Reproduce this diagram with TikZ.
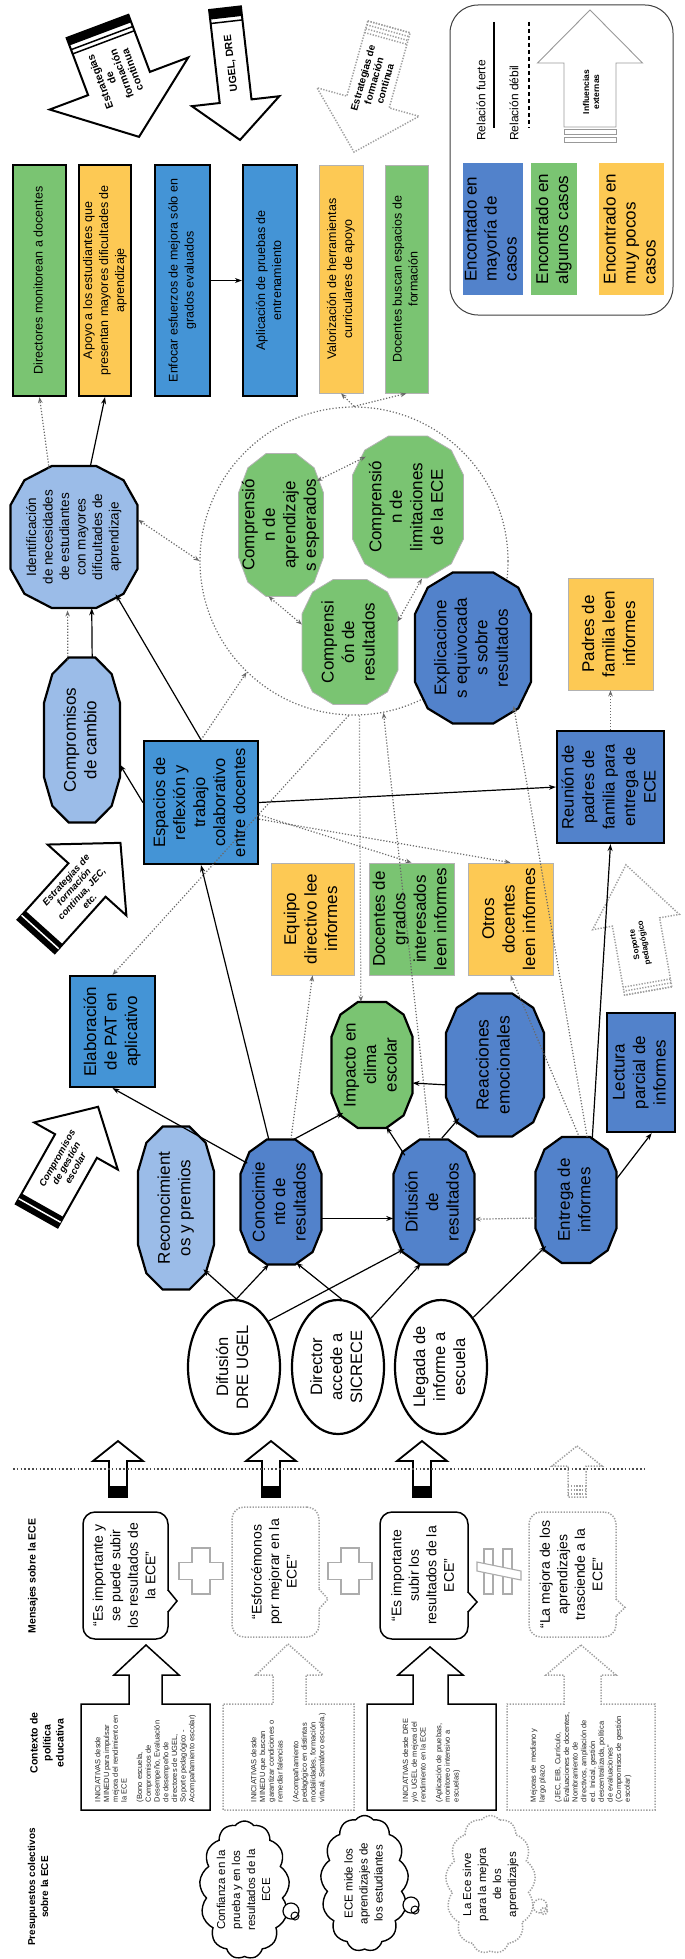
\documentclass[tikz,border=0pt]{standalone}
\usepackage{fontspec}
\setmainfont{Liberation Sans}
\usepackage{graphicx}
\usetikzlibrary{arrows.meta,shapes.geometric,shapes.symbols}
\pgfdeclarelayer{bg}
\pgfsetlayers{bg,main}
\definecolor{medblue}{RGB}{68,148,214}
\definecolor{octblue}{RGB}{82,130,203}
\definecolor{ltblue}{RGB}{155,188,232}
\definecolor{grn}{RGB}{122,196,114}
\definecolor{ylw}{RGB}{253,201,84}
\definecolor{dotc}{RGB}{105,105,105}
\tikzset{
 sarr/.style={-{Stealth[length=7pt,width=5pt]}, line width=1.2pt},
 darr/.style={-{Stealth[length=6pt,width=4.5pt]}, line width=1.2pt, dotc, dash pattern=on 1.2pt off 1.8pt},
 dd/.style={darr, {Stealth[length=6pt,width=4.5pt]}-{Stealth[length=6pt,width=4.5pt]}},
 box/.style={draw=black, line width=2.2pt, inner sep=0pt, font=\fontsize{17}{20.5}\selectfont},
 rbox/.style={draw=black, line width=2.2pt, inner sep=0pt, font=\fontsize{12.5}{16}\selectfont},
 tbox/.style={draw=gray!60, line width=0.8pt, inner sep=0pt, font=\fontsize{17}{20.5}\selectfont},
 anch/.style={ellipse, inner sep=0pt, outer sep=0pt, draw=none},
 octtxt/.style={inner sep=0pt, font=\fontsize{17}{20.5}\selectfont},
 oct/.style={draw=black, line width=2.2pt, fill=#1, line join=miter},
 goct/.style={draw=gray!60, line width=0.8pt, fill=grn},
 ell/.style={ellipse, draw=black, line width=2.2pt, fill=white, inner sep=0pt, minimum width=92, minimum height=134, font=\fontsize{16.5}{20}\selectfont},
 blk/.style={draw=black, line width=2pt, fill=white, line join=miter},
 dblk/.style={draw=gray!75, line width=1.5pt, dash pattern=on 1.3pt off 1.5pt, fill=white},
 dots/.style={draw=gray!75, line width=1.5pt, dash pattern=on 1.3pt off 1.5pt},
 atxt/.style={font=\bfseries\fontsize{10.5}{11.5}\selectfont, align=center, inner sep=0pt},
 atxtb/.style={font=\bfseries\itshape\fontsize{9.5}{10.5}\selectfont, align=center, inner sep=0pt},
 lgarr/.style={draw=gray!80, line width=0.9pt, fill=white},
 msg/.style={draw=black, line width=1.5pt, rounded corners=12pt, inner sep=0pt, font=\fontsize{14}{17.5}\selectfont},
 dmsg/.style={dots, rounded corners=12pt, inner sep=0pt, font=\fontsize{14}{17.5}\selectfont},
 ctxs/.style={draw=black, line width=1.5pt, fill=white, line join=miter},
 ctxd/.style={dots, fill=white},
 ctxt/.style={inner sep=0pt, text=black!85, font=\fontsize{7.5}{8.7}\selectfont},
 cld/.style={cloud, cloud puffs=13, cloud puff arc=105, cloud ignores aspect, draw=black, line width=1.4pt, inner sep=0pt},
 dcld/.style={cloud, cloud puffs=13, cloud puff arc=105, cloud ignores aspect, dots, inner sep=0pt},
 cldtxt/.style={inner sep=0pt, font=\fontsize{11.5}{15}\selectfont},
 hdr/.style={inner sep=0pt, font=\bfseries\fontsize{10.5}{13}\selectfont},
 crs/.style={draw=gray!65, line width=1.1pt, fill=white},
}
\newcommand{\rt}[1]{\rotatebox{90}{\begin{tabular}{@{}c@{}}#1\end{tabular}}}
\newcommand{\rtl}[1]{\rotatebox{90}{\begin{tabular}{@{}l@{}}#1\end{tabular}}}
\newcommand{\rtp}[2]{\rotatebox{90}{\parbox{#1}{\raggedright #2}}}
\newcommand{\octo}[7]{%
  \draw[#6] ({#2-0.35*#4/2},{#3-#5/2}) -- ({#2+0.35*#4/2},{#3-#5/2})
   -- ({#2+0.78*#4/2},{#3-0.8*#5/2}) -- ({#2+#4/2},{#3-0.45*#5/2})
   -- ({#2+#4/2},{#3+0.45*#5/2}) -- ({#2+0.78*#4/2},{#3+0.8*#5/2})
   -- ({#2+0.35*#4/2},{#3+#5/2}) -- ({#2-0.35*#4/2},{#3+#5/2})
   -- ({#2-0.78*#4/2},{#3+0.8*#5/2}) -- ({#2-#4/2},{#3+0.45*#5/2})
   -- ({#2-#4/2},{#3-0.45*#5/2}) -- ({#2-0.78*#4/2},{#3-0.8*#5/2}) -- cycle;
  \node[anch, minimum width={1.04*#4}, minimum height={1.04*#5}] (#1) at (#2,#3) {};
  \node[octtxt] at (#2,#3) {#7};
}
\newcommand{\barrow}[5]{\draw[#1] (-#3,-#2) -- (#3,-#2) -- (#3,0) -- (#4,0) -- (0,#5) -- (-#4,0) -- (-#3,0) -- cycle;}
\newcommand{\notch}[4]{%
  \draw[white, line width=2.6pt] (#1,{#2+1}) -- (#1,{#3-1});
  \draw[#4] (#1,#2) -- ({#1+9},{(#2+#3)/2}) -- (#1,#3);
}
\newcommand{\plusg}[2]{%
  \draw[crs] ({#1-9},{#2-23}) -- ({#1+9},{#2-23}) -- ({#1+9},{#2-8.5}) -- ({#1+22},{#2-8.5})
   -- ({#1+22},{#2+8.5}) -- ({#1+9},{#2+8.5}) -- ({#1+9},{#2+23}) -- ({#1-9},{#2+23})
   -- ({#1-9},{#2+8.5}) -- ({#1-22},{#2+8.5}) -- ({#1-22},{#2-8.5}) -- ({#1-9},{#2-8.5}) -- cycle;
}
\begin{document}
\begin{tikzpicture}[x=1pt,y=-1pt]
\fill[white] (0,0) rectangle (685,1959);
\useasboundingbox (0,0) rectangle (685,1959);

%================ LEGEND
\draw[gray!50!black, line width=1pt, rounded corners=28pt] (450,5) rectangle (673,315);
\draw[line width=1.6pt] (494,22) -- (494,128);
\draw[line width=1.2pt, dash pattern=on 4pt off 3pt] (529,22) -- (529,128);
\node[anchor=south, inner sep=0pt, font=\fontsize{12}{14}\selectfont] (lf) at (481,141) {\rotatebox{90}{Relación fuerte}};
\node[anchor=south, inner sep=0pt, font=\fontsize{12}{14}\selectfont] (ldb) at (514,141) {\rotatebox{90}{Relación débil}};
\begin{scope}[shift={(590,63)}, rotate=180]
 \barrow{lgarr}{64}{26}{52.5}{53}
 \draw[lgarr] (-26,-66) rectangle (26,-71);
 \draw[lgarr] (-26,-74) rectangle (26,-79);
\end{scope}
\node[inner sep=0pt, font=\bfseries\fontsize{8.5}{10}\selectfont] (infl) at (592,92) {\rt{Influencias\\externas}};
\node[fill=octblue, minimum width=55, minimum height=132, inner sep=0pt, font=\fontsize{17}{20}\selectfont] (lg1) at (492.5,229) {\rtl{Encontado en\\mayoría de\\casos}};
\node[fill=grn, minimum width=46, minimum height=132, inner sep=0pt, font=\fontsize{17}{20}\selectfont] (lg2) at (554,229) {\rtl{Encontrado en\\algunos casos}};
\node[fill=ylw, minimum width=65, minimum height=132, inner sep=0pt, font=\fontsize{17}{20}\selectfont] (lg3) at (631.5,229) {\rtl{Encontrado en\\muy pocos\\casos}};

%================ TOP BLOCK ARROWS
\begin{scope}[shift={(119,83.5)}, rotate=20.6]
 \barrow{blk}{61}{33}{74}{57}
 \fill (-33,-61) rectangle (33,-53);
 \draw[line width=1.5pt] (-33,-48.5) -- (33,-48.5);
 \draw[line width=1.5pt] (-33,-44) -- (33,-44);
 \node[rotate=110.6, atxt] (a1) at (0,-8) {Estrategias\\de\\formación\\continua};
\end{scope}
\begin{scope}[shift={(235.6,101.2)}, rotate=6.5]
 \barrow{blk}{93.6}{16}{44}{39}
 \fill (-16,-93.6) rectangle (16,-84);
 \draw[line width=1.5pt] (-16,-80) -- (16,-80);
 \node[rotate=96.5, atxt] (a2) at (0,-38) {UGEL, DRE};
\end{scope}
\begin{scope}[shift={(368,102)}, rotate=-15.6]
 \barrow{dblk}{78}{22}{53}{52}
 \foreach \yy in {-78,-74,-70,-66} \draw[dots] (-22,\yy) -- (22,\yy);
 \node[rotate=74.4, atxt, font=\bfseries\fontsize{10}{11.5}\selectfont] (a3) at (0,-22) {Estrategias de\\formación\\continua};
\end{scope}

%================ RIGHT COLUMN BOXES
\node[rbox, fill=grn, minimum width=53, minimum height=231] (dir) at (39.5,280.5) {\rt{Directores monitorean a docentes}};
\node[rbox, fill=ylw, minimum width=52, minimum height=231] (apo) at (105,280.5) {\rt{Apoyo a los estudiantes que\\presentan mayores dificultades de\\aprendizaje}};
\node[rbox, fill=medblue, minimum width=55, minimum height=231] (enf) at (182.5,280.5) {\rt{Enfocar esfuerzos de mejora sólo en\\grados evaluados}};
\node[rbox, fill=medblue, minimum width=54, minimum height=231] (apl) at (270,280.5) {\rt{Aplicación de pruebas de\\entrenamiento}};
\node[tbox, fill=ylw, minimum width=44, minimum height=228, font=\fontsize{12.5}{16}\selectfont] (val) at (341,279) {\rt{Valorización de herramientas\\curriculares de apoyo}};
\node[tbox, fill=grn, minimum width=43, minimum height=228, font=\fontsize{12.5}{16}\selectfont] (dbf) at (406.5,279) {\rt{Docentes buscan espacios de\\formación}};

%================ CIRCLE AND OCTAGONS
\node[circle, draw=dotc, dash pattern=on 1.2pt off 2pt, line width=1.2pt, minimum size=308, inner sep=0pt] (circ) at (354,561) {};
\octo{ide}{74}{537}{127}{142}{oct=ltblue}{\fontsize{13.5}{16.5}\selectfont\rt{Identificación\\de necesidades\\de estudiantes\\con mayores\\dificultades de\\aprendizaje}}
\octo{cam}{82}{740}{76}{165}{oct=ltblue}{\rt{Compromisos\\de cambio}}
\octo{cap}{281}{525}{85}{143}{goct}{\rt{Comprensió\\n de\\aprendizaje\\s esperados}}
\octo{clim}{408}{507}{111}{142}{goct}{\rt{Comprensió\\n de\\limitaciones\\de la ECE}}
\octo{cres}{350}{642}{96}{125}{goct}{\rt{Comprensi\\ón de\\resultados}}
\octo{exp}{473}{648}{116}{151}{oct=octblue}{\rt{Explicacione\\s equivocada\\s sobre\\resultados}}
\octo{rec}{176}{1208}{76}{163}{oct=ltblue}{\rt{Reconocimient\\os y premios}}
\octo{con}{281}{1202}{81}{125}{oct=octblue}{\rt{Conocimie\\nto de\\resultados}}
\octo{dif}{434}{1202}{81}{125}{oct=octblue}{\rt{Difusión\\de\\resultados}}
\octo{ent}{576}{1200}{81}{126}{oct=octblue}{\rt{Entrega de\\informes}}
\octo{imp}{372}{1065}{81}{126}{oct=grn}{\rt{Impacto en\\clima\\escolar}}
\octo{rea}{495}{1065}{98}{143}{oct=octblue}{\fontsize{17.5}{21}\selectfont\rt{Reacciones\\emocionales}}

%================ BOXES
\node[box, fill=medblue, minimum width=114, minimum height=123, font=\fontsize{16.5}{20}\selectfont] (esp) at (201,802.5) {\rt{Espacios de\\reflexión y\\trabajo\\colaborativo\\entre docentes}};
\node[box, fill=octblue, minimum width=107, minimum height=112, font=\fontsize{16.5}{20.5}\selectfont] (reu) at (610.5,787) {\rt{Reunión de\\padres de\\familia para\\entrega de\\ECE}};
\node[tbox, fill=ylw, minimum width=85, minimum height=112] (pad) at (610.5,634) {\rt{Padres de\\familia leen\\informes}};
\node[tbox, fill=ylw, minimum width=83, minimum height=112] (equ) at (312.5,919) {\rt{Equipo\\directivo lee\\informes}};
\node[tbox, fill=grn, minimum width=85, minimum height=112] (dgi) at (411.5,919) {\rt{Docentes de\\grados\\interesados\\leen informes}};
\node[tbox, fill=ylw, minimum width=85, minimum height=112] (otr) at (510.5,919) {\rt{Otros\\docentes\\leen informes}};
\node[box, fill=medblue, minimum width=85, minimum height=111] (pat) at (112.5,1031.5) {\rt{Elaboración\\de PAT en\\aplicativo}};
\node[box, fill=octblue, minimum width=68, minimum height=119] (lec) at (641,1072.5) {\rt{Lectura\\parcial de\\informes}};

%================ MID BLOCK ARROWS
\begin{scope}[shift={(87,880)}, rotate=138]
 \barrow{blk}{76}{25}{53}{50}
 \fill (-25,-76) rectangle (25,-64);
 \draw[white, line width=1.5pt] (-25,-70) -- (25,-70);
 \node[rotate=48, atxtb] (a4) at (0,-14) {Estrategias de\\formación\\continua, JEC,\\etc.};
\end{scope}
\begin{scope}[shift={(76,1146)}, rotate=150.6]
 \barrow{blk}{80}{24}{48}{45}
 \fill (-24,-80) rectangle (24,-68);
 \draw[white, line width=1.5pt] (-24,-74) -- (24,-74);
 \node[rotate=60.6, atxtb] (a5) at (0,-20) {Compromisos\\de gestión\\escolar};
\end{scope}
\begin{scope}[shift={(636,922)}, rotate=190]
 \barrow{dblk}{70}{24}{44}{58}
 \foreach \yy in {-70,-66,-62} \draw[dots] (-24,\yy) -- (24,\yy);
 \node[rotate=100, font=\bfseries\fontsize{8}{9.5}\selectfont, align=center, inner sep=0pt] (a6) at (0,-22) {Soporte\\pedagógico};
\end{scope}

%================ ELLIPSES
\node[ell] (e1) at (234,1367) {\rt{Difusión\\DRE UGEL}};
\node[ell] (e2) at (338,1367) {\rt{Director\\accede a\\SICRECE}};
\node[ell] (e3) at (441,1367) {\rt{Llegada de\\informe a\\escuela}};

%================ CONNECTORS (background)
\begin{pgfonlayer}{bg}
\draw[darr] (ent.157) -- (con.56);
\draw[sarr] (dif.235) -- (rec.301);
\draw[darr] (ent.110) -- (dgi.south);
\end{pgfonlayer}

%================ CONNECTORS
\draw[sarr] (enf) -- (apl);
\draw[sarr] (ide.77) -- (apo.south);
\draw[darr] (ide.110) -- (dir.south);
\draw[sarr] (cam.83) -- (ide.284);
\draw[darr] (cam.100) -- (ide.265);
\draw[sarr] (esp.north) -- (ide.306);
\draw[sarr] (esp.west) -- (cam.327);
\draw[sarr] (esp.east) -- (reu.west);
\draw[darr] (reu.north) -- (pad.south);
\draw[darr] (esp.north) -- (circ.226);
\draw[darr] (circ.268) -- (pat.north);
\draw[darr] (circ.272) -- (imp.100);
\draw[darr] (dif.94) -- (circ.281);
\draw[darr] (ent.80) -- (exp.305);
\draw[darr] (esp.348) -- (dgi.north);
\draw[darr] (esp.344) -- (otr.north);
\draw[darr] (con.81) -- (equ.south);
\draw[darr] (ent.88) -- (otr.south);
\draw[darr] (ent.204) -- (dif.337);
\draw[dd] (ide.15) -- (circ.180);
\draw[darr] (circ.north) -- (val.south);
\draw[darr] (circ.north) -- (dbf.south);
\draw[dd] (cap.51) -- (clim.130);
\draw[dd] (cap.260) -- (cres.160);
\draw[dd] (cres.23) -- (clim.281);
\draw[sarr] (con.101) -- (esp.south);
\draw[sarr] (ent.75) -- (reu.south);
\draw[sarr] (con.131) -- (pat.south);
\draw[sarr] (ent.27) -- (lec.280);
\draw[sarr] (con.79) -- (imp.239);
\draw[sarr] (dif.122) -- (imp.283);
\draw[sarr] (dif.83) -- (rea.236);
\draw[sarr] (rea.202) -- (imp.336);
\draw[sarr] (con.338) -- (dif.202);
\draw[sarr] (e1.88) -- (rec.294);
\draw[sarr] (e1.88) -- (con.259);
\draw[sarr] (e1.53) -- (dif.238);
\draw[sarr] (e2.87) -- (con.284);
\draw[sarr] (e2.56) -- (dif.258);
\draw[sarr] (e3.57) -- (ent.237);

%================ MESSAGE ARROWS + DOTTED LINE
\foreach \xx in {118,271,422} {
 \draw[blk, line width=1.8pt] (\xx,1441) -- (\xx+25,1461) -- (\xx+9,1461) -- (\xx+9,1497) -- (\xx-9,1497) -- (\xx-9,1461) -- (\xx-25,1461) -- cycle;
 \fill (\xx-9,1486) rectangle (\xx+9,1497);
}
\draw[dblk] (577,1446) -- (602,1466) -- (586,1466) -- (586,1497) -- (568,1497) -- (568,1466) -- (552,1466) -- cycle;
\foreach \yy in {1486,1490,1494} \draw[dots] (568,\yy) -- (586,\yy);
\draw[line width=1.6pt, dash pattern=on 1.6pt off 2.2pt, gray!60!black] (13,1469) -- (647,1469);

%================ MESSAGES
\node[hdr] (h3) at (33,1576) {\rt{Mensajes sobre la ECE}};
\node[msg, minimum width=85, minimum height=127] (m1) at (125.5,1575.5) {\rt{“Es importante y\\se puede subir\\los resultados de\\la ECE”}};
\notch{168}{1590}{1612}{line width=1.5pt}
\node[dmsg, minimum width=87, minimum height=130] (m2) at (275.5,1572) {\rt{“Esforcémonos\\por mejorar en la\\ECE”}};
\notch{319}{1589}{1609}{dots}
\node[msg, minimum width=88, minimum height=127] (m3) at (424,1575.5) {\rt{“Es importante\\subir los\\resultados de la\\ECE”}};
\notch{468}{1592}{1612}{line width=1.5pt}
\node[dmsg, minimum width=87, minimum height=125] (m4) at (572.5,1574.5) {\rt{“La mejora de los\\aprendizajes\\trasciende a la\\ECE”}};
\notch{616}{1599}{1616}{dots}
\plusg{201}{1571}
\plusg{350}{1571}
\draw[crs] (484,1549) rectangle (493,1594);
\draw[crs] (503,1549) rectangle (512,1594);
\draw[crs] (477,1562) -- (521,1571) -- (521,1580) -- (477,1571) -- cycle;

%================ CONTEXT
\node[hdr] (h2) at (48,1743) {\rt{Contexto de\\política\\educativa}};
\draw[ctxs] (146,1645) -- (179,1675) -- (162,1675) -- (162,1704) -- (210,1704) -- (210,1810) -- (81,1810) -- (81,1704) -- (129,1704) -- (129,1675) -- (114,1675) -- cycle;
\draw[ctxd] (288,1644) -- (323,1675) -- (306,1675) -- (306,1704) -- (354,1704) -- (354,1810) -- (223,1810) -- (223,1704) -- (273,1704) -- (273,1675) -- (256,1675) -- cycle;
\draw[ctxs] (430,1647) -- (463,1675) -- (448,1675) -- (448,1704) -- (496,1704) -- (496,1810) -- (367,1810) -- (367,1704) -- (413,1704) -- (413,1675) -- (398,1675) -- cycle;
\draw[ctxd] (581,1645) -- (616,1675) -- (601,1675) -- (601,1704) -- (655,1704) -- (655,1810) -- (507,1810) -- (507,1704) -- (564,1704) -- (564,1675) -- (546,1675) -- cycle;
\node[ctxt] (k1) at (145.5,1757) {\rtp{90pt}{INICIATIVAS desde MINEDU para impulsar mejora del rendimiento en la ECE\par\vspace{7pt}(Bono escuela, Compromisos de Desempeño, Evaluación de desempeño de directores de UGEL, Soporte pedagógico - Acompañamiento escolar)}};
\node[ctxt] (k2) at (288.5,1757) {\rtp{90pt}{INICIATIVAS desde MINEDU que buscan garantizar condiciones o remediar falencias\par\vspace{7pt}(Acompañamiento pedagógico en distintas modalidades, formación virtual, Semáforo escuela.)}};
\node[ctxt] (k3) at (431.5,1757) {\rtp{90pt}{INICIATIVAS desde DRE y/o UGEL de mejora del rendimiento en la ECE\par\vspace{7pt}(Aplicación de pruebas, monitoreo intensivo a escuelas)}};
\node[ctxt] (k4) at (581,1757) {\rtp{90pt}{Mejoras de mediano y largo plazo\par\vspace{7pt}(JEC, EIB, Currículo, Evaluaciones de docentes, Nombramiento de directivos, ampliación de ed. Inicial, gestión descentralizada, política de evaluaciones" (Compromisos de gestión escolar)}};

%================ PRESUPUESTOS
\node[hdr, font=\bfseries\fontsize{10}{13}\selectfont] (h1) at (39,1887) {\rt{Presupuestos colectivos\\sobre la ECE}};
\node[cld, minimum width=90, minimum height=138] (c1) at (244.5,1890) {};
\node[cldtxt] at (c1) {\rt{Confianza en la\\prueba y en los\\resultados de la\\ECE}};
\draw[line width=1.2pt, fill=white] (291,1911) circle (8);
\draw[line width=1pt] (295,1916) circle (4);
\node[cld, minimum width=88, minimum height=136] (c2) at (364.5,1883.5) {};
\node[cldtxt] at (c2) {\rt{ECE mide los\\aprendizajes de\\los estudiantes}};
\draw[line width=1.2pt, fill=white] (411,1905) circle (8);
\draw[line width=1pt] (415,1910) circle (4);
\node[dcld, minimum width=90, minimum height=138] (c3) at (490.5,1884.5) {};
\node[cldtxt] at (c3) {\rt{La Ece sirve\\para la mejora\\de los\\aprendizajes}};
\draw[dots] (540,1906) circle (7);
\draw[dots] (544,1911) circle (3.5);
\end{tikzpicture}
\end{document}
